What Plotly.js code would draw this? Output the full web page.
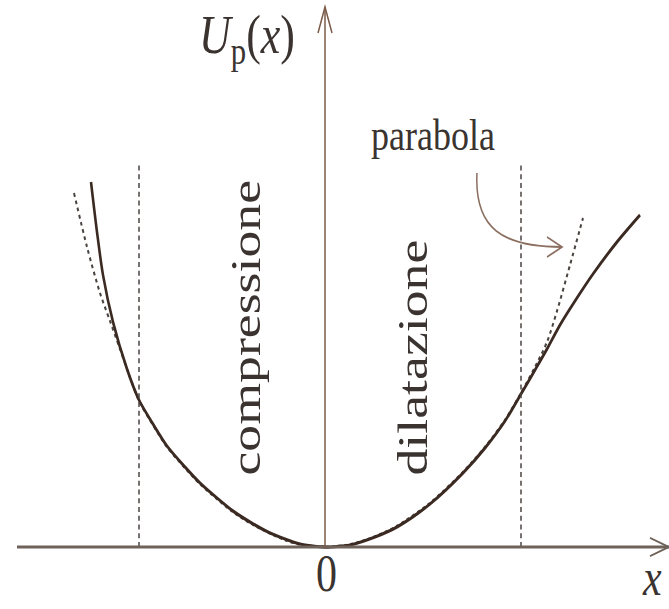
<!DOCTYPE html>
<html>
<head>
<meta charset="utf-8">
<script src="https://cdn.plot.ly/plotly-3.0.1.min.js"></script>
<style>
  html, body { margin: 0; padding: 0; background: #ffffff; }
  #frame { width: 669px; height: 609px; overflow: hidden; }
  #plot { width: 669px; height: 487px; transform-origin: 0 0; }
</style>
</head>
<body>
<div id="frame"><div id="plot"></div></div>
<script>
// Potential energy U_p(x) of a bond versus displacement x (arbitrary units),
// with the harmonic (parabolic) approximation drawn dashed.
const curveX = [-234, -228, -222, -212, -198, -186, -172, -158, -140, -125, -108, -92, -75, -58, -40, -25, -12, 0,
                12, 25, 50, 72, 105, 138, 160, 180, 196, 210, 222, 235, 250, 268, 292, 315];
const curveY = [365, 315, 272, 225, 178, 147, 123, 101, 80, 64, 49, 36, 25, 15.5, 8, 3, 1, 0,
                0.5, 2, 10, 20, 43, 74, 99, 126, 153, 177, 198, 222, 246, 273, 305, 332];

const parabolaX = [-251, -238, -225, -215, -205, -193, -186, -172, -158, -140, -125, -108, -92, -75, -58, -40, -25, 0,
                   25, 50, 72, 105, 138, 160, 180, 196, 210, 222, 232, 245, 258];
const parabolaY = [354, 300, 254, 226, 198, 164, 146, 122, 100, 79, 63, 48, 35, 24, 15, 7, 2.5, 0,
                   2.5, 10.5, 21, 44, 75, 100, 127, 154, 180, 205, 236, 282, 329];

// limits of the region where the parabola is a good approximation
const limitX = [-186, 196];
const limitTop = 385;

// axis extents
const xAxisFrom = -308, xAxisTo = 344;
const yAxisTop = 540;

// labels
const yLabel = '<i>U</i><sub>p</sub>(<i>x</i>)';
const xLabel = '<i>x</i>';
const originLabel = '0';
const leftRegion = 'compressione';
const rightRegion = 'dilatazione';
const parabolaLabel = 'parabola';

const STRETCH = 609 / 487;
document.getElementById('plot').style.transform = 'scaleY(' + STRETCH + ')';

const serif = 'Liberation Serif, Times New Roman, serif';
const ink = '#3a3330';
const axisBrown = '#7a5a48';

const traces = [
  {
    x: parabolaX, y: parabolaY, type: 'scatter', mode: 'lines',
    line: { color: '#4a4440', width: 2, dash: '3px,3px', shape: 'spline', smoothing: 0.8 },
    hoverinfo: 'skip'
  },
  {
    x: curveX, y: curveY, type: 'scatter', mode: 'lines',
    line: { color: '#3b2a22', width: 2.6, shape: 'spline', smoothing: 0.8 },
    hoverinfo: 'skip'
  }
];

const shapes = [];
// dashed vertical limits
limitX.forEach(function (lx) {
  shapes.push({ type: 'line', xref: 'x', yref: 'y', x0: lx, x1: lx, y0: 0, y1: limitTop,
                line: { color: '#4a4440', width: 1.5, dash: '4px,3px' } });
});
// horizontal axis with open arrowhead
shapes.push({ type: 'line', xref: 'x', yref: 'y', x0: xAxisFrom, x1: xAxisTo, y0: 0, y1: 0,
              line: { color: '#6e625a', width: 2.4 } });
shapes.push({ type: 'path', xref: 'x', yref: 'y',
              path: 'M ' + (xAxisTo - 19) + ' 9 L ' + xAxisTo + ' 0 L ' + (xAxisTo - 19) + ' -9',
              line: { color: '#6e625a', width: 1.5 } });
// vertical axis with open arrowhead
shapes.push({ type: 'line', xref: 'x', yref: 'y', x0: 0, x1: 0, y0: 0, y1: yAxisTop,
              line: { color: axisBrown, width: 1.5 } });
shapes.push({ type: 'path', xref: 'x', yref: 'y',
              path: 'M -7 ' + (yAxisTop - 26) + ' L 0 ' + yAxisTop + ' L 7 ' + (yAxisTop - 26),
              line: { color: axisBrown, width: 1.5 } });
// curved pointer from the "parabola" label to the dashed curve
shapes.push({ type: 'path', xref: 'x', yref: 'y',
              path: 'M 152 374 C 149 318 178 300 237 300',
              line: { color: '#8a6e60', width: 1.5 } });
shapes.push({ type: 'path', xref: 'x', yref: 'y',
              path: 'M 222 310 L 237 300 L 222 290',
              line: { color: '#8a6e60', width: 1.5 } });

function label(text, x, y, size, extra) {
  return Object.assign({
    text: text, x: x, y: y, xref: 'x', yref: 'y', showarrow: false,
    xanchor: 'center', yanchor: 'middle',
    font: { family: serif, size: size, color: ink }
  }, extra || {});
}

const annotations = [
  label(yLabel, -78, 509, 44),
  label(originLabel, 1, -27, 42),
  label(xLabel, 327, -31, 42),
  label(parabolaLabel, 108, 412, 36),
  label(leftRegion, -80, 219, 43, { textangle: -90 }),
  label(rightRegion, 87, 189, 43, { textangle: -90 })
];

const layout = {
  width: 669, height: 487,
  margin: { l: 0, r: 0, t: 0, b: 0 },
  paper_bgcolor: '#ffffff', plot_bgcolor: '#ffffff',
  showlegend: false,
  xaxis: { range: [-325, 344], visible: false, fixedrange: true },
  yaxis: { range: [-62, 547], visible: false, fixedrange: true },
  shapes: shapes,
  annotations: annotations
};

Plotly.newPlot('plot', traces, layout, { staticPlot: true, displayModeBar: false });
</script>
</body>
</html>
